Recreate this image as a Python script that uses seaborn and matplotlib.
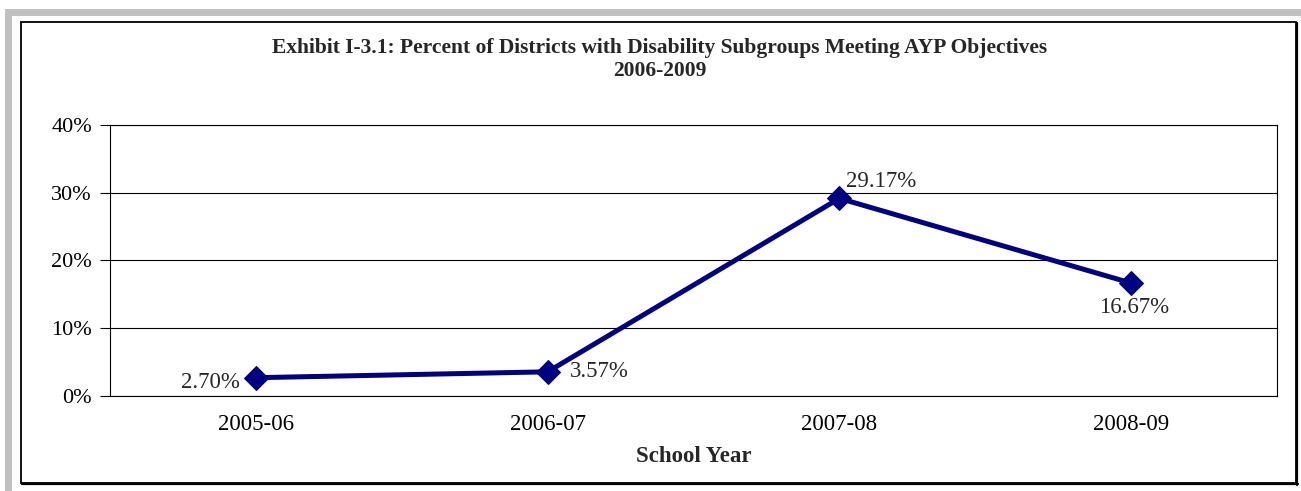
import matplotlib
matplotlib.use("Agg")
import matplotlib.pyplot as plt
import matplotlib.patches as mpatches
from matplotlib.lines import Line2D
from matplotlib.ticker import FixedLocator, PercentFormatter
import numpy as np
import pandas as pd
import seaborn as sns

# ---- data ----
school_years = ["2005-06", "2006-07", "2007-08", "2008-09"]
pct_meeting = [2.70, 3.57, 29.17, 16.67]
point_labels = ["2.70%", "3.57%", "29.17%", "16.67%"]
y_ticks = [0, 10, 20, 30, 40]

title_lines = ["Exhibit I-3.1: Percent of Districts with Disability Subgroups Meeting AYP Objectives",
               "2006-2009"]
x_title = "School Year"

sns.set_style("white")
plt.rcParams['font.family'] = ['Liberation Serif', 'DejaVu Serif']

W, H = 1301, 491
fig = plt.figure(figsize=(W / 100, H / 100), dpi=100)

def fx(px):
    return px / W

def fy(py):
    return 1 - py / H

# plot area
left, right, top, bottom = 110, 1277, 125, 396
ax = fig.add_axes([fx(left), fy(bottom), fx(right - left), fy(top) - fy(bottom)])

df = pd.DataFrame({"year": school_years, "pct": pct_meeting})
navy = "#000080"
sns.lineplot(data=df, x="year", y="pct", sort=False, ax=ax, color=navy,
             linewidth=3.6, marker="D", markersize=12, markeredgecolor=navy,
             markerfacecolor=navy)

ax.set_xlim(-0.5, 3.5)
ax.set_ylim(0, 40)
ax.yaxis.set_major_locator(FixedLocator(y_ticks))
ax.yaxis.set_major_formatter(PercentFormatter(decimals=0))
ax.set_xticks(range(len(school_years)))
ax.set_xticklabels(school_years)
ax.xaxis.set_minor_locator(FixedLocator(np.arange(-0.5, len(school_years), 1.0)))
ax.tick_params(axis="x", which="major", length=0, pad=13, labelsize=16.5, colors="black")
ax.tick_params(axis="x", which="minor", length=6, width=0.8, direction="out", color="black")
ax.tick_params(axis="y", which="major", length=7, width=0.8, direction="out", pad=6,
               labelsize=16, colors="black", left=True)
ax.grid(axis="y", color="black", linewidth=0.8)
ax.grid(axis="x", visible=False)
ax.set_axisbelow(True)
for s in ax.spines.values():
    s.set_visible(True)
    s.set_color("black")
    s.set_linewidth(0.8)
ax.set_xlabel(x_title, fontsize=16.5, fontweight="bold", labelpad=8)
ax.set_ylabel("")

# data labels
offsets = [(-16, -5, "right", "center"), (22, 0, "left", "center"),
           (7, 17, "left", "center"), (3, -24, "center", "center")]
for i, (lab, val) in enumerate(zip(point_labels, pct_meeting)):
    dx, dy, ha, va = offsets[i]
    ax.annotate(lab, (i, val), xytext=(dx * 0.72, dy * 0.72), textcoords="offset points",
                ha=ha, va=va, fontsize=16.5)

# title
fig.text(fx(660), fy(48), title_lines[0], ha="center", va="center",
         fontsize=15.5, fontweight="bold")
fig.text(fx(660), fy(71), title_lines[1], ha="center", va="center",
         fontsize=15.5, fontweight="bold")

# gray outer frame
gray = "#c0c0c0"
fig.patches.append(mpatches.Rectangle((fx(5), fy(16)), fx(W - 5), fy(9) - fy(16),
                                      transform=fig.transFigure, color=gray, lw=0))
fig.patches.append(mpatches.Rectangle((fx(5), 0), fx(7), fy(9),
                                      transform=fig.transFigure, color=gray, lw=0))
# black box with shadow on right and bottom
fig.patches.append(mpatches.Rectangle((fx(21), fy(483)), fx(1296 - 21), fy(22) - fy(483),
                                      transform=fig.transFigure, fill=False,
                                      edgecolor="black", lw=1.3))
fig.lines.append(Line2D([fx(1297), fx(1297)], [fy(23), fy(484.5)], transform=fig.transFigure,
                        color="black", lw=1.6))
fig.lines.append(Line2D([fx(22), fx(1297.5)], [fy(484), fy(484)], transform=fig.transFigure,
                        color="black", lw=1.6))

fig.savefig("out.png", dpi=100)
